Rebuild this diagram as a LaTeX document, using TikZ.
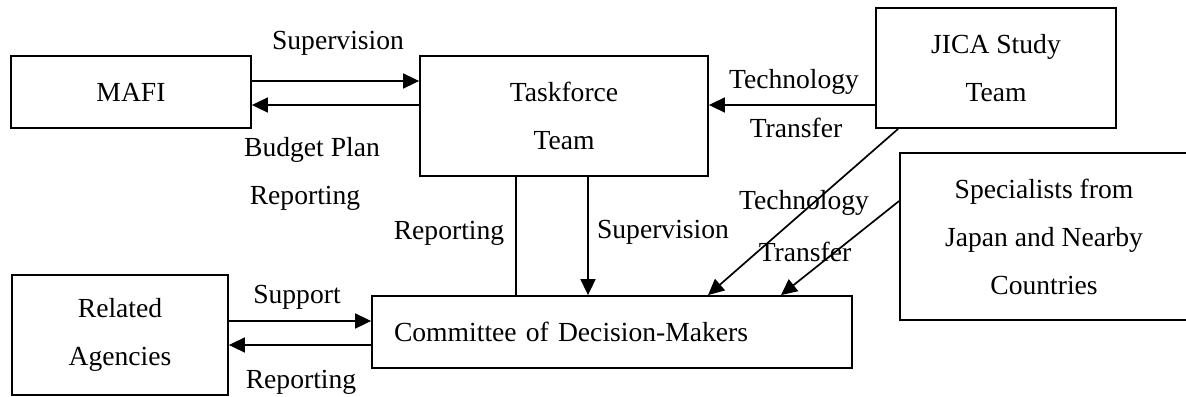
\documentclass[tikz,border=0pt]{standalone}
\usepackage{fontspec}
\setmainfont{Liberation Serif}
\usetikzlibrary{arrows.meta}
\begin{document}
\begin{tikzpicture}[x=0.5pt, y=-0.5pt, font=\fontsize{13.8}{24}\selectfont,
		box/.style={draw, line width=0.9pt, align=center, inner sep=0pt},
		lbl/.style={inner sep=0pt},
		arr/.style={-{Triangle[length=8pt, width=7.5pt]}, line width=0.85pt}]
		\useasboundingbox (0,0) rectangle (1186,396);
		% boxes
		\node[box, minimum width=120pt, minimum height=36pt] (mafi) at (131,92) {MAFI};
		\node[box, minimum width=144pt, minimum height=60pt] (task) at (564,116) {Taskforce\\Team};
		\node[box, minimum width=120pt, minimum height=60pt] (jica) at (996,68) {JICA Study\\Team};
		\node[box, minimum width=144pt, minimum height=83.5pt] (spec) at (1044,236.5) {Specialists from\\Japan and Nearby\\Countries};
		\node[box, minimum width=108pt, minimum height=60pt] (rel) at (120,335) {Related\\Agencies};
		\node[box, minimum height=36pt, text width=218pt, inner xsep=11pt, align=left] (cm) at (612,332) {Committee of Decision-Makers};
		% connectors
		\draw[arr] ([yshift=5.5pt]mafi.east) -- ([yshift=5.5pt]mafi.east -| task.west);
		\draw[arr] ([yshift=-6.5pt]mafi.east -| task.west) -- ([yshift=-6.5pt]mafi.east);
		\draw[arr] ([yshift=-18.5pt]jica.west) -- ([yshift=-18.5pt]jica.west -| task.east);
		\draw[line width=0.85pt] ([xshift=-24pt]task.south) -- ([xshift=-24pt]task.south |- cm.north);
		\draw[arr] ([xshift=12pt]task.south) -- ([xshift=12pt]task.south |- cm.north);
		\draw[arr] ([xshift=11.5pt]jica.south west) -- ([xshift=48pt]cm.north);
		\draw[arr] ([yshift=17.75pt]spec.west) -- ([xshift=84.5pt]cm.north);
		\draw[arr] ([yshift=7pt]rel.east) -- ([yshift=7pt]rel.east -| cm.west);
		\draw[arr] ([yshift=-5pt]rel.east -| cm.west) -- ([yshift=-5pt]rel.east);
		% labels
		\node[lbl] (sup1) at (338,43) {Supervision};
		\node[lbl] (bud) at (312,150) {Budget Plan};
		\node[lbl] (rep1) at (305,198) {Reporting};
		\node[lbl] (tech1) at (794,82) {Technology};
		\node[lbl] (tra1) at (796,128) {Transfer};
		\node[lbl] (rep2) at (449,233) {Reporting};
		\node[lbl] (sup2) at (663,232) {Supervision};
		\node[lbl] (tech2) at (804,203) {Technology};
		\node[lbl] (tra2) at (805,252) {Transfer};
		\node[lbl] (supp) at (297,297) {Support};
		\node[lbl] (rep3) at (301,382) {Reporting};
	\end{tikzpicture}
\end{document}
